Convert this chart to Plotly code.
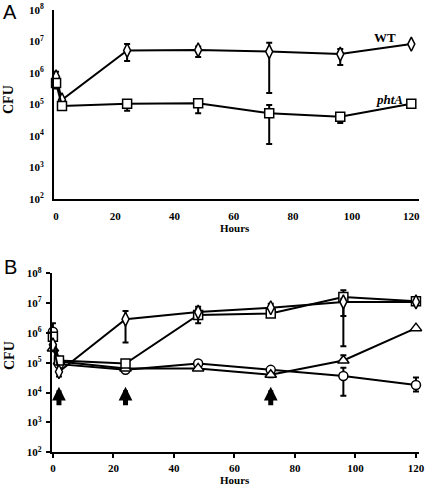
import plotly.graph_objects as go

# ---------------- Data ----------------
hours = [0, 2, 24, 48, 72, 96, 120]

# Panel A
a_wt = [7.5e5, 1.4e5, 5.2e6, 5.4e6, 4.8e6, 4.0e6, 8.3e6]
a_wt_hi = [1.1e6, None, 8.3e6, 7.0e6, 9.2e6, 5.8e6, None]
a_wt_lo = [4.5e5, None, 2.4e6, 3.2e6, 2.3e5, 1.8e6, None]
a_pht = [4.8e5, 9.0e4, 1.05e5, 1.1e5, 5.3e4, 4.1e4, 1.05e5]
a_pht_hi = [None, None, 1.4e5, 1.45e5, 9.6e4, None, None]
a_pht_lo = [3.2e5, None, 6.3e4, 5.3e4, 5.6e3, 2.6e4, None]

# Panel B
b_dia = [4.0e5, 5.0e4, 2.9e6, 5.0e6, 7.0e6, 1.1e7, 1.1e7]
b_dia_hi = [None, None, 5.5e6, 6.5e6, 9.5e6, 1.4e7, None]
b_dia_lo = [None, 3.5e4, 4.8e5, None, None, 3.6e5, None]
b_sq = [7.5e5, 1.2e5, 9.5e4, 4.0e6, 4.5e6, 1.6e7, 1.15e7]
b_sq_hi = [None, 1.6e5, None, 7.5e6, None, 2.7e7, None]
b_sq_lo = [None, None, None, 2.1e6, 3.5e6, 3.7e6, None]
b_tri = [3.0e5, 1.1e5, 6.5e4, 6.5e4, 4.0e4, 1.2e5, 1.45e6]
b_tri_hi = [None, None, None, None, None, 1.8e5, None]
b_tri_lo = [None, None, None, None, 3.3e4, None, None]
b_circ = [1.1e6, 9.0e4, 5.8e4, 9.5e4, 5.8e4, 3.6e4, 1.8e4]
b_circ_hi = [2.1e6, None, None, None, None, 6.8e4, 3.2e4]
b_circ_lo = [None, None, None, None, None, 7.9e3, 1.1e4]

arrow_hours = [2, 24, 72]

y_tickvals = [1e2, 1e3, 1e4, 1e5, 1e6, 1e7, 1e8]
y_ticktext = ["10<sup>2</sup>", "10<sup>3</sup>", "10<sup>4</sup>", "10<sup>5</sup>",
              "10<sup>6</sup>", "10<sup>7</sup>", "10<sup>8</sup>"]
x_tickvals = [0, 20, 40, 60, 80, 100, 120]

# ---------------- Figure ----------------
W, H = 425, 486
SERIF = "Liberation Serif"

def px(x):
    return x / W

def py(y):
    return 1 - y / H

def err(v, hi, lo):
    plus = [(h - a) if h is not None else 0 for a, h in zip(v, hi)]
    minus = [(a - l) if l is not None else 0 for a, l in zip(v, lo)]
    return dict(type="data", symmetric=False, array=plus, arrayminus=minus,
                color="black", thickness=2, width=3)

fig = go.Figure()

def add(xa, ya, vals, hi, lo, symbol, size):
    fig.add_trace(go.Scatter(
        x=hours, y=vals, xaxis=xa, yaxis=ya, mode="lines+markers",
        line=dict(color="black", width=2),
        marker=dict(symbol=symbol, size=size, color="white",
                    line=dict(color="black", width=1.5)),
        error_y=err(vals, hi, lo), showlegend=False, cliponaxis=False,
        hoverinfo="skip"))

add("x", "y", a_wt, a_wt_hi, a_wt_lo, "diamond-tall", 10)
add("x", "y", a_pht, a_pht_hi, a_pht_lo, "square", 9)
add("x2", "y2", b_circ, b_circ_hi, b_circ_lo, "circle", 9)
add("x2", "y2", b_tri, b_tri_hi, b_tri_lo, "triangle-up", 10)
add("x2", "y2", b_sq, b_sq_hi, b_sq_lo, "square", 9)
add("x2", "y2", b_dia, b_dia_hi, b_dia_lo, "diamond-tall", 10)

tickfont = dict(family=SERIF, size=11, color="black", weight="bold")

common_x = dict(tickvals=x_tickvals, showgrid=False, zeroline=False,
                showline=True, linecolor="black", linewidth=2,
                tickfont=tickfont, automargin=False)
common_y = dict(type="log", range=[2, 8], tickvals=y_tickvals, ticktext=y_ticktext,
                showgrid=False, zeroline=False, showline=True, linecolor="black",
                linewidth=2, tickfont=tickfont, automargin=False)

fig.update_layout(
    template="none",
    width=W, height=H, margin=dict(l=0, r=0, t=0, b=0, pad=0),
    paper_bgcolor="white", plot_bgcolor="white",
    xaxis=dict(domain=[px(54), px(419)], range=[-0.7, 122.6], anchor="y",
               ticks="", ticklabelstandoff=6, **common_x),
    yaxis=dict(domain=[py(199), py(10)], anchor="x", ticks="",
               ticklabelstandoff=6, **common_y),
    xaxis2=dict(domain=[px(51.7), px(419)], range=[-0.4, 121], anchor="y2",
                ticks="outside", ticklen=4, tickwidth=2, tickcolor="black",
                ticklabelstandoff=0, **common_x),
    yaxis2=dict(domain=[py(452.3), py(273.3)], anchor="x2", ticks="outside",
                ticklen=4, tickwidth=2, tickcolor="black", ticklabelstandoff=2,
                **common_y),
)

annots = []
def txt(x, y, text, font, angle=0):
    annots.append(dict(x=px(x), y=py(y), xref="paper", yref="paper", text=text,
                       xanchor="center", yanchor="middle", textangle=angle,
                       showarrow=False, font=font))

# panel letters
txt(10, 12, "A", dict(family="Liberation Sans", size=20, color="black"))
txt(10, 267, "B", dict(family="Liberation Sans", size=20, color="black"))
# axis titles
for yc in (100, 356):
    txt(9, yc, "CFU", dict(family=SERIF, size=14, color="black", weight="bold"), -90)
txt(235, 228, "Hours", dict(family=SERIF, size=11, color="black", weight="bold"))
txt(235, 480, "Hours", dict(family=SERIF, size=11, color="black", weight="bold"))
# series labels
txt(385, 37, "WT", dict(family=SERIF, size=13, color="black", weight="bold"))
txt(389, 99, "<i>phtA</i>", dict(family=SERIF, size=13, color="black", weight="bold"))
# arrows in panel B
for h in arrow_hours:
    annots.append(dict(x=h, y=4.2, xref="x2", yref="y2", ax=h, ay=3.53,
                       axref="x2", ayref="y2", showarrow=True, text="",
                       arrowhead=2, arrowsize=0.55, arrowwidth=5, arrowcolor="black"))

fig.update_layout(annotations=annots)

fig.write_html("out.html", config={"displayModeBar": False, "responsive": False})

# remove default page margins so the figure sits at the window origin
with open("out.html", "r", encoding="utf-8") as f:
    html = f.read()
html = html.replace("<head>", "<head><style>html,body{margin:0;padding:0;overflow:hidden;}</style>", 1)
with open("out.html", "w", encoding="utf-8") as f:
    f.write(html)
